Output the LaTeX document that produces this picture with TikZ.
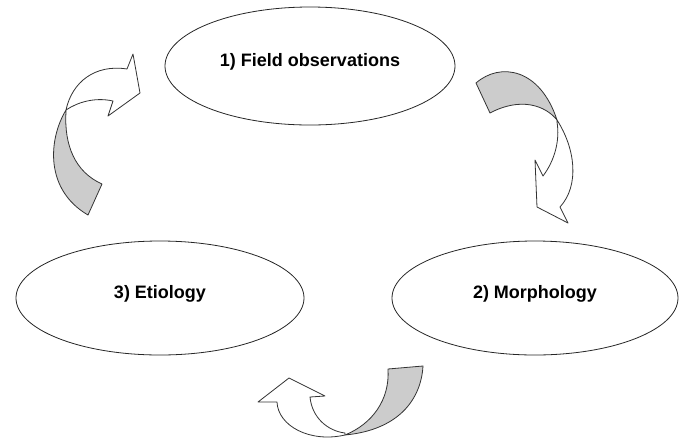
\documentclass[tikz,border=0pt]{standalone}
\usepackage{fontspec}
\setmainfont{Liberation Sans}
\usetikzlibrary{shapes.geometric}

\begin{document}
\begin{tikzpicture}[
    x=1pt, y=-1pt,
    stage/.style={
        ellipse, draw=black!85, fill=white, line width=0.8pt,
        inner sep=0pt, text height=13pt, text depth=12pt,
        font=\fontsize{18}{20}\selectfont\bfseries
    },
    back/.style={draw=black!80, line width=0.8pt, fill=black!20, line join=round},
    front/.style={draw=black!80, line width=0.8pt, fill=white, line join=round}
]
\useasboundingbox (0,0) rectangle (683,440);

% 1. Stages of the cycle
\node[stage, minimum width=290pt, minimum height=118pt] (field) at (310,66) {1) Field observations};
\node[stage, minimum width=286pt, minimum height=114pt] (morph) at (535,298) {2) Morphology};
\node[stage, minimum width=288pt, minimum height=114pt] (etio) at (160,298) {3) Etiology};

% 2. Twisted arrows between the stages
% grey part is the back of the band, white part carries the head
% field -> morph
\draw[back] (476,83) .. controls (500,62) and (540,68) .. (557,120)
    .. controls (545,105) and (520,97) .. (490,113) -- cycle;
\draw[front] (557,120) .. controls (575,148) and (580,185) .. (560,207)
    -- (568,223) -- (537,207) -- (535,160) -- (543,176)
    .. controls (555,160) and (560,140) .. (557,122) -- cycle;

% morph -> etio
\draw[back] (388,369) -- (423,366) .. controls (421,400) and (398,430) .. (345,435)
    .. controls (372,424) and (390,400) .. (388,369) -- cycle;
\draw[front] (345,435) .. controls (310,443) and (278,426) .. (277,402)
    -- (258,402) -- (289,378) -- (325,396) -- (310,397)
    .. controls (312,418) and (328,431) .. (345,433) -- cycle;

% etio -> field
\draw[back] (66,110) .. controls (48,140) and (45,190) .. (88,215)
    -- (102,184) .. controls (75,172) and (64,145) .. (66,112) -- cycle;
\draw[front] (127,69) .. controls (95,64) and (72,82) .. (66,110)
    .. controls (78,102) and (95,97) .. (113,101)
    -- (108,116) -- (140,93) -- (133,54) -- cycle;

\end{tikzpicture}
\end{document}
